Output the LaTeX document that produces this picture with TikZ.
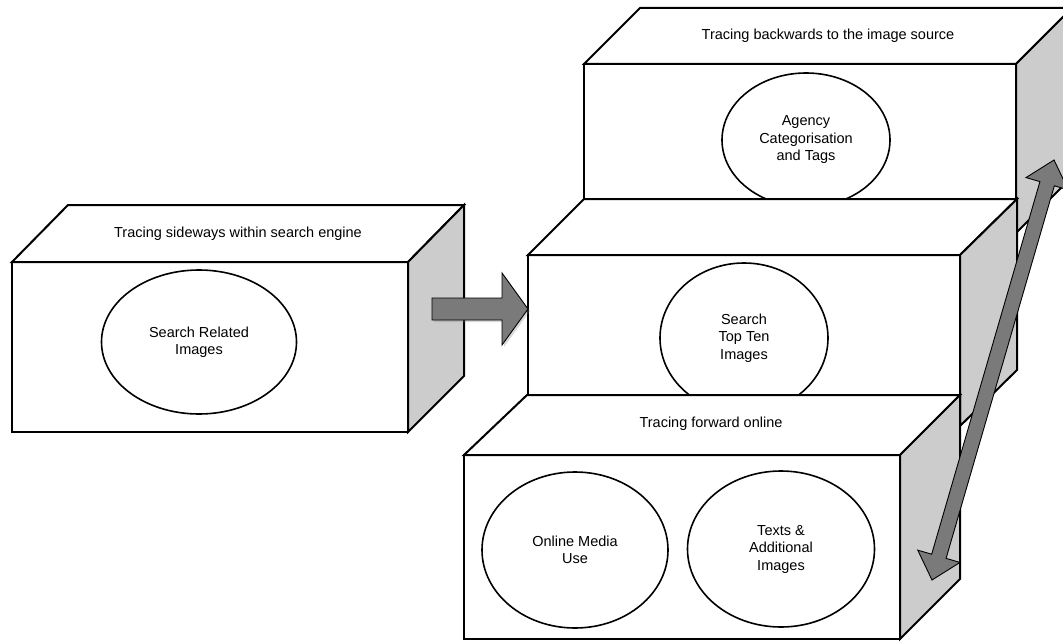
\documentclass[tikz,border=0pt]{standalone}
\usepackage{fontspec}
\setmainfont{Liberation Sans}
\usetikzlibrary{shapes.geometric,shadows,calc}
\tikzset{
  font={\fontsize{14.5pt}{17.5pt}\selectfont}}
\tikzset{
  face/.style={draw=black, line width=2pt, fill=white},
  side/.style={face, fill=black!20},
  bubble/.style={ellipse, draw=black, line width=1.6pt, align=center, inner sep=0pt},
  blockarrow/.style={draw=black, line width=0.9pt, fill=black!52}}

\begin{document}
\begin{tikzpicture}[x=1pt,y=1pt]
\useasboundingbox (0,0) rectangle (1063,-642);
\clip (0,0) rectangle (1063,-642);
\filldraw [face] (584,-64) rectangle (1016,-233);
\filldraw [face] (584,-64) -- (640,-8) -- (1072,-8) -- (1016,-64) -- cycle;
\filldraw [side] (1016,-64) -- (1072,-8) -- (1072,-177) -- (1016,-233) -- cycle;
\node (backTitle) at (828,-36) {Tracing backwards to the image source};
\node [bubble, minimum width=168pt, minimum height=134pt] (agencyTags) at (806,-140) {Agency\\Categorisation\\and Tags};
\filldraw [face] (528,-255) rectangle (960,-426);
\filldraw [face] (528,-255) -- (584,-199) -- (1017,-199) -- (960,-255) -- cycle;
\filldraw [side] (960,-255) -- (1017,-199) -- (1017,-370) -- (960,-426) -- cycle;
\node [bubble, minimum width=168pt, minimum height=150pt] (topTen) at (744,-338) {Search\\Top Ten\\Images};
\filldraw [face] (464,-455) rectangle (900,-639);
\filldraw [face] (464,-455) -- (527,-395) -- (960,-395) -- (900,-455) -- cycle;
\filldraw [side] (900,-455) -- (960,-395) -- (960,-579) -- (900,-639) -- cycle;
\node (fwdTitle) at (711,-424) {Tracing forward online};
\node [bubble, minimum width=186pt, minimum height=156pt] (mediaUse) at (575,-550) {Online Media\\Use};
\node [bubble, minimum width=187pt, minimum height=156pt] (textsImg) at (781,-549) {Texts \&\\Additional\\Images};
\filldraw [face] (12,-262) rectangle (408,-432);
\filldraw [face] (12,-262) -- (68,-205) -- (464,-205) -- (408,-262) -- cycle;
\filldraw [side] (408,-262) -- (464,-205) -- (464,-376) -- (408,-432) -- cycle;
\node (sideTitle) at (238,-234) {Tracing sideways within search engine};
\node [bubble, minimum width=195pt, minimum height=144pt] (relatedImg) at (199,-342) {Search Related\\Images};
\coordinate (sideTail) at (432,-309);
\coordinate (sideTip) at (528,-309);
\draw [blockarrow, drop shadow={opacity=0.3, shadow xshift=2pt, shadow yshift=-2pt}] (sideTail) ++(0,11) -- ++(70,0) -- ++(0,25) -- (sideTip) -- ++(-26,-36) -- ++(0,25) -- ++(-70,0) -- cycle;
\coordinate (backTip) at (1054,-160);
\coordinate (fwdTip) at (932,-580);
\begin{scope}[shift={($(backTip)!0.5!(fwdTip)$)}, rotate=73.8]
\draw [blockarrow] (-218.7,0) -- (-194,22) -- (-194,7.5) -- (194,7.5) -- (194,22) -- (218.7,0) -- (194,-22) -- (194,-7.5) -- (-194,-7.5) -- (-194,-22) -- cycle;
\end{scope}
\end{tikzpicture}
\end{document}
